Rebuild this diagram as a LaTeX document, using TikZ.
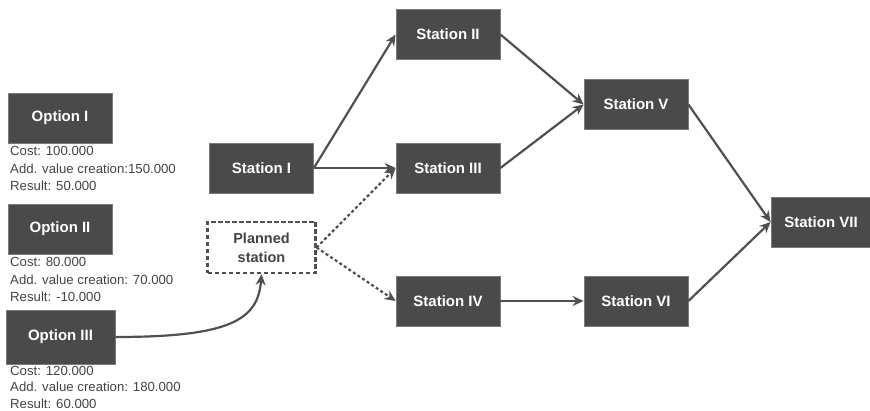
\documentclass[tikz,border=0pt]{standalone}
\usepackage{fontspec}
\setmainfont{Liberation Sans}
\usetikzlibrary{arrows.meta}
\definecolor{boxfill}{HTML}{4A4A4A}
\definecolor{boxline}{HTML}{7A7A7A}
\definecolor{linkcol}{HTML}{505050}
\definecolor{infocol}{HTML}{444444}
\begin{document}
\begin{tikzpicture}[x=1pt,y=-1pt,
  stationbox/.style={draw=boxline, line width=0.8pt, fill=boxfill, text=white,
    font=\fontsize{15}{16}\selectfont\bfseries, minimum width=104pt, minimum height=50pt,
    inner sep=0pt},
  plannedbox/.style={draw=linkcol, line width=2.2pt, dash pattern=on 4.5pt off 2.5pt, fill=white,
    text=infocol, font=\fontsize{14.5}{19}\selectfont\bfseries, align=center,
    minimum width=108pt, minimum height=51pt, inner sep=0pt},
  info/.style={anchor=north west, align=left, text=infocol, inner sep=0pt,
    font=\fontsize{13.2}{17.5}\selectfont},
  link/.style={draw=linkcol, line width=2.2pt, -{Stealth[length=11pt,width=10pt]}},
  dotlink/.style={link, dash pattern=on 3pt off 2.5pt}]
\useasboundingbox (0,0) rectangle (870,411);

% options on the left
\node[stationbox] (opt1) at (60,118) {Option I};
\node[info] (info1) at (10,146.5) {Cost: 100.000\\Add. value creation:150.000\\Result: 50.000};
\node[stationbox] (opt2) at (60,229) {Option II};
\node[info] (info2) at (10,257.5) {Cost: 80.000\\Add. value creation: 70.000\\Result: -10.000};
\node[stationbox, minimum width=109pt, minimum height=54pt] (opt3) at (60.5,337) {Option III};
\node[info, font=\fontsize{13.2}{16.5}\selectfont] (info3) at (10,366) {Cost: 120.000\\Add. value creation: 180.000\\Result: 60.000};

% stations
\node[stationbox] (s1) at (261.5,168) {Station I};
\node[plannedbox] (plan) at (261.5,247.5) {Planned\\station};
\node[stationbox] (s2) at (448,34.5) {Station II};
\node[stationbox] (s3) at (448,168) {Station III};
\node[stationbox] (s4) at (448,301) {Station IV};
\node[stationbox] (s5) at (636,104.5) {Station V};
\node[stationbox] (s6) at (636,301) {Station VI};
\node[stationbox, minimum width=100pt] (s7) at (821,222) {Station VII};

% connections
\draw[link] (s1.east) -- (s2.west);
\draw[link] (s1.east) -- (s3.west);
\draw[dotlink] (plan.east) -- (s3.west);
\draw[dotlink] (plan.east) -- (s4.west);
\draw[link] (s2.east) -- (s5.west);
\draw[link] (s3.east) -- (s5.west);
\draw[link] (s4.east) -- (s6.west);
\draw[link] (s5.east) -- (s7.west);
\draw[link] (s6.east) -- (s7.west);
\draw[link] (opt3.east) .. controls (230,337) and (258,320) .. (plan.south);
\end{tikzpicture}
\end{document}
